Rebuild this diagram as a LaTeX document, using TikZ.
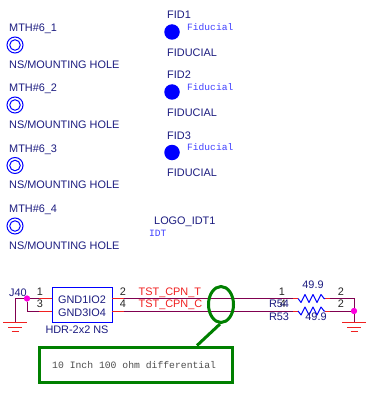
\documentclass[tikz,border=0pt]{standalone}
\usepackage{fontspec}
\usetikzlibrary{shapes.geometric,calc}
\setmainfont{Liberation Sans}
\setmonofont{Liberation Mono}
\definecolor{lbl}{HTML}{1C1C80}
\definecolor{wire}{HTML}{800050}
\definecolor{pinred}{HTML}{F02020}
\definecolor{part}{HTML}{0000FF}
\definecolor{mono}{HTML}{4040FF}
\definecolor{grn}{HTML}{008000}
\definecolor{mag}{HTML}{FF00E0}
\tikzset{
 lab/.style={inner sep=0pt,anchor=west,text=lbl,font=\fontsize{10.9}{12}\selectfont},
 ctr/.style={inner sep=0pt,text=lbl,font=\fontsize{10.9}{12}\selectfont},
 pinno/.style={inner sep=0pt,text=black!85,font=\fontsize{10.9}{12}\selectfont},
 net/.style={inner sep=0pt,anchor=west,text=pinred,font=\fontsize{10.9}{12}\selectfont},
 attr/.style={inner sep=0pt,anchor=west,text=mono,font=\ttfamily\fontsize{9.6}{11}\selectfont},
 hole/.style={circle,draw=part,line width=1pt,minimum size=16pt,inner sep=0pt},
 holein/.style={circle,draw=part,line width=1pt,minimum size=10.5pt,inner sep=0pt},
 fid/.style={circle,fill=part,minimum size=15.5pt,inner sep=0pt},
 wireline/.style={draw=wire,line width=1pt},
 pinline/.style={draw=pinred,line width=1pt},
 dotj/.style={circle,fill=mag,minimum size=6pt,inner sep=0pt},
 gndline/.style={draw=pinred,line width=1pt},
 res/.style={draw=part,line width=1pt,line join=round},
 calloutline/.style={draw=grn,line width=3pt},
}
\newcommand{\mthblock}[2]{%
 \node[lab] (mlab#1) at (9,#2-16) {MTH\#6\_#1};
 \node[hole] (mo#1) at (15,#2) {};
 \node[holein] (mi#1) at (15,#2) {};
 \node[lab] (mval#1) at (9,#2+19.5) {NS/MOUNTING HOLE};
}
\newcommand{\fidblock}[2]{%
 \node[lab] (flab#1) at (167,#2-17) {FID#1};
 \node[fid] (fc#1) at (172,#2) {};
 \node[attr] (fat#1) at (187,#2-5) {Fiducial};
 \node[lab] (fval#1) at (167,#2+20.5) {FIDUCIAL};
}
\newcommand{\gnd}[3]{% name, x, y
 \coordinate (#1) at (#2,#3);
 \draw[gndline] (#2-12,#3) -- (#2+12,#3);
 \draw[gndline] (#2-7,#3+5) -- (#2+7,#3+5);
 \draw[gndline] (#2-3.5,#3+9) -- (#2+3.5,#3+9);
}
\newcommand{\zig}[2]{% from, to: 27pt long
 \draw[res] (#1) -- ++(3,4) -- ++(4,-8) -- ++(4,8) -- ++(4,-8) -- ++(4,8) -- ++(4,-8) -- ++(3,4) -- (#2);
}
\begin{document}
\begin{tikzpicture}[x=1pt,y=-1pt]
\useasboundingbox (0,0) rectangle (370,393);
\mthblock{1}{45}
\mthblock{2}{105}
\mthblock{3}{165.5}
\mthblock{4}{226}
\fidblock{1}{32}
\fidblock{2}{92}
\fidblock{3}{152.5}
\node[lab] (logo) at (154,222) {LOGO\_IDT1};
\node[attr] (idt) at (149,233) {IDT};

% header
\node[draw=part,line width=1pt,minimum width=60pt,minimum height=35pt,inner sep=0pt] (hdr) at (82,304.5) {};
\node[ctr] (g1) at (82,300) {GND1IO2};
\node[ctr] (g3) at (82,312.5) {GND3IO4};
\node[ctr] (hval) at (77,329.5) {HDR-2x2 NS};
\node[lab] (j40) at (9,293) {J40};

\coordinate (hl1) at (52,298.5);
\coordinate (hl3) at (52,311);
\coordinate (hr2) at (112,298.5);
\coordinate (hr4) at (112,311);
\node[dotj] (jl) at (27,298.5) {};
\node[dotj] (jr) at (354,311) {};
\coordinate (cl) at (27,311);
\coordinate (t1a) at (298,298.5);
\coordinate (t1b) at (325,298.5);
\coordinate (t2a) at (298,311);
\coordinate (t2b) at (325,311);
\coordinate (w1a) at (293,298.5);
\coordinate (w2a) at (293,311);
\coordinate (w1b) at (330,298.5);
\coordinate (w2b) at (330,311);
\coordinate (cr) at (354,298.5);

\gnd{gl}{15}{322}
\gnd{gr}{354}{322}

\draw[wireline] (gl) -- (15,298.5) -- (jl);
\draw[wireline] (jl) -- (hl1);
\draw[wireline] (jl) -- (cl) -- (hl3);
\draw[wireline] (hr2) -- (w1a);
\draw[wireline] (hr4) -- (w2a);
\draw[wireline] (w1b) -- (cr) -- (jr);
\draw[wireline] (w2b) -- (jr);
\draw[wireline] (jr) -- (gr);
\draw[pinline] (39,298.5) -- (hl1);
\draw[pinline] (39,311) -- (hl3);
\draw[pinline] (hr2) -- (124,298.5);
\draw[pinline] (hr4) -- (124,311);
\draw[pinline] (w1a) -- (t1a);
\draw[pinline] (w2a) -- (t2a);
\draw[pinline] (t1b) -- (w1b);
\draw[pinline] (t2b) -- (w2b);
\node[dotj] at (jl) {};
\node[dotj] at (jr) {};
\zig{t1a}{t1b}
\zig{t2a}{t2b}

\node[pinno] (p1) at (40,292) {1};
\node[pinno] (p3) at (40,304) {3};
\node[pinno] (p2) at (123,292) {2};
\node[pinno] (p4) at (123,304) {4};
\node[net] (nt) at (138.5,293) {TST\_CPN\_T};
\node[net] (nc) at (138.5,305) {TST\_CPN\_C};
\node[pinno] (r1) at (282,292) {1};
\node[pinno] (r4) at (283,304) {4};
\node[pinno] (r2a) at (341,292) {2};
\node[pinno] (r2b) at (341,304) {2};
\node[ctr] (r54) at (279,304) {R54};
\node[ctr] (r53) at (279,317) {R53};
\node[ctr] (v1) at (313,285) {49.9};
\node[ctr] (v2) at (316,317) {49.9};

% callout
\node[ellipse,calloutline,minimum width=25pt,minimum height=36pt,inner sep=0pt] (ell) at (221,304.5) {};
\node[calloutline,minimum width=193pt,minimum height=35pt,inner sep=0pt] (cbox) at (136,364.5) {};
\node[inner sep=0pt,anchor=west,text=black!70,font=\ttfamily\fontsize{9.75}{11}\selectfont] (ctext) at (52,365) {10 Inch 100 ohm differential};
\draw[calloutline] (ell.south) ++(-1,0) coordinate (ea) (cbox.north) ++(61,0) coordinate (eb) (ea) -- (eb);
\end{tikzpicture}
\end{document}
